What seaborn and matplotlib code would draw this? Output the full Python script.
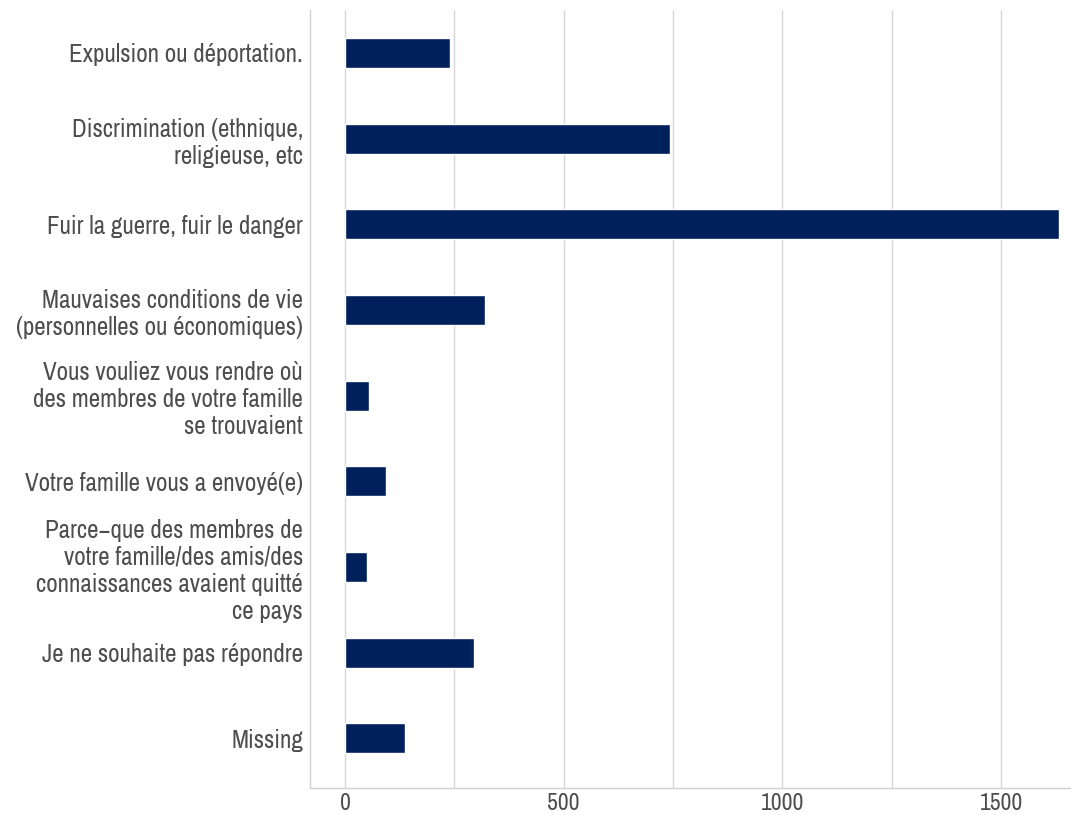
import matplotlib
matplotlib.use("Agg")
import matplotlib.pyplot as plt
from matplotlib import font_manager
from matplotlib.ticker import MultipleLocator
import seaborn as sns
import pandas as pd

# données
raisons = [
    "Expulsion ou déportation.",
    "Discrimination (ethnique,\nreligieuse, etc",
    "Fuir la guerre, fuir le danger",
    "Mauvaises conditions de vie\n(personnelles ou économiques)",
    "Vous vouliez vous rendre où\ndes membres de votre famille\nse trouvaient",
    "Votre famille vous a envoyé(e)",
    "Parce\u2212que des membres de\nvotre famille/des amis/des\nconnaissances avaient quitté\nce pays",
    "Je ne souhaite pas répondre",
    "Missing",
]
effectifs = [240, 742, 1632, 320, 55, 94, 50, 295, 137]

df = pd.DataFrame({"raison": raisons, "n": effectifs})

sns.set_theme(style="white")
noms = {f.name for f in font_manager.fontManager.ttflist}
famille = "Roboto"
for cand in ["Liberation Sans Narrow", "Arial Narrow", "Archivo Narrow",
             "PT Sans Narrow", "Roboto Condensed"]:
    if cand in noms:
        famille = cand
        break
plt.rcParams["font.family"] = [famille, "DejaVu Sans"]

fig = plt.figure(figsize=(10.71, 8.15), dpi=100)
ax = fig.add_axes([310 / 1071, 27 / 815, 1 - 310 / 1071, 778 / 815])

sns.barplot(data=df, x="n", y="raison", orient="h", color="#00205B",
            saturation=1, width=0.35, ax=ax, zorder=3)

ax.set_xlim(-80, 1660)
ax.set_ylim(8.58, -0.5)
ax.xaxis.set_major_locator(MultipleLocator(500))
ax.xaxis.set_minor_locator(MultipleLocator(250))
ax.grid(axis="x", which="both", color="#D6D6D6", linewidth=1, zorder=0)
ax.set_axisbelow(True)
ax.set_xlabel("")
ax.set_ylabel("")

for side in ["top", "right"]:
    ax.spines[side].set_visible(False)
for side in ["left", "bottom"]:
    ax.spines[side].set_color("#D0D0D0")
    ax.spines[side].set_linewidth(1)

ax.tick_params(axis="both", which="major", length=3, width=0.8, color="#555555",
               labelcolor="#4D4D4D", labelsize=18, pad=2, direction="out")
ax.tick_params(axis="x", which="major", labelsize=17, pad=0.5)
ax.tick_params(axis="x", which="minor", length=0)
for lab in ax.get_yticklabels():
    lab.set_linespacing(1.22)

fig.savefig("out.png", dpi=100)
